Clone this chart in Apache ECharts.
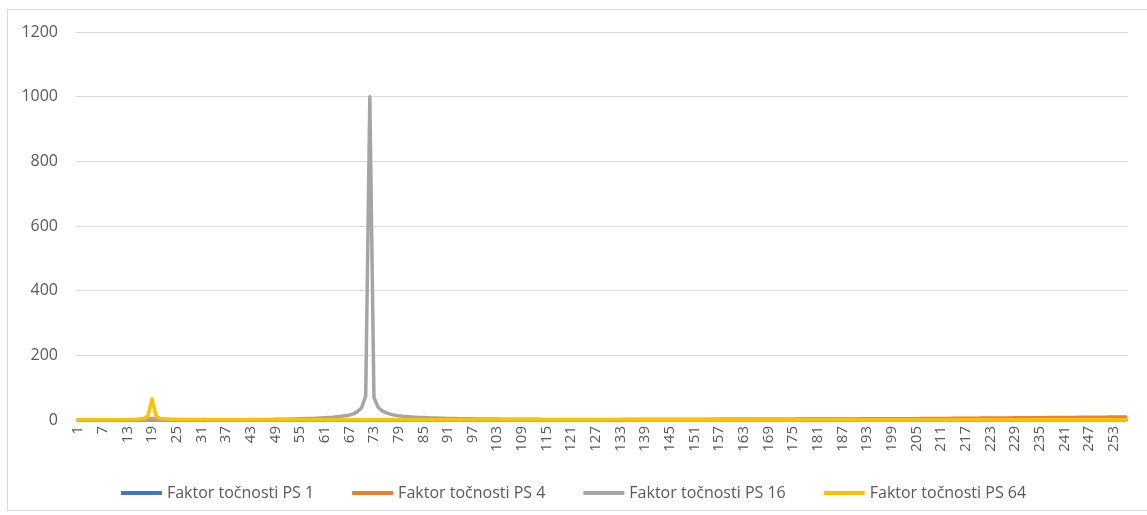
<!DOCTYPE html>
<html>
<head>
<meta charset="utf-8">
<script src="https://cdn.jsdelivr.net/npm/echarts@6/dist/echarts.min.js"></script>
<style>
  html, body { margin: 0; padding: 0; background: #fff; overflow: hidden; width: 1147px; height: 515px; }
  #frame { position: absolute; left: 7px; top: 9px; width: 1200px; height: 500px; border: 1px solid #d9d9d9; border-right: none; }
  #chart { position: absolute; left: 0; top: 0; width: 1147px; height: 515px; }
</style>
</head>
<body>
<div id="frame"></div>
<div id="chart"></div>
<script>
// categories 1..256
var categories = [];
for (var i = 1; i <= 256; i++) { categories.push(String(i)); }

var seriesNames = ['Faktor točnosti PS 1', 'Faktor točnosti PS 4', 'Faktor točnosti PS 16', 'Faktor točnosti PS 64'];
var yTicks = [0, 200, 400, 600, 800, 1000, 1200];

var ps1 = [
  0.2,0.2,0.2,0.2,0.2,0.2,0.2,0.2,0.2,0.2,0.2,0.2,0.2,0.2,0.2,0.2,
  0.2,0.2,0.3,0.2,0.2,0.2,0.2,0.2,0.2,0.2,0.2,0.2,0.2,0.2,0.2,0.2,
  0.2,0.2,0.2,0.2,0.2,0.2,0.2,0.2,0.2,0.2,0.2,0.2,0.2,0.2,0.2,0.2,
  0.2,0.2,0.2,0.2,0.2,0.2,0.2,0.2,0.2,0.2,0.2,0.2,0.2,0.2,0.2,0.2,
  0.2,0.2,0.2,0.2,0.2,0.2,0.3,0.4,0.3,0.2,0.2,0.2,0.2,0.2,0.2,0.2,
  0.2,0.2,0.2,0.2,0.2,0.2,0.2,0.2,0.2,0.2,0.2,0.2,0.2,0.2,0.2,0.2,
  0.2,0.2,0.2,0.2,0.2,0.2,0.2,0.2,0.2,0.2,0.2,0.2,0.2,0.2,0.2,0.2,
  0.2,0.2,0.2,0.2,0.2,0.2,0.2,0.2,0.2,0.2,0.2,0.2,0.2,0.2,0.2,0.2,
  0.2,0.2,0.2,0.2,0.2,0.2,0.2,0.2,0.2,0.2,0.2,0.2,0.2,0.2,0.2,0.2,
  0.2,0.2,0.2,0.2,0.2,0.2,0.2,0.2,0.2,0.2,0.2,0.2,0.2,0.2,0.2,0.2,
  0.2,0.2,0.2,0.2,0.2,0.2,0.2,0.2,0.2,0.2,0.2,0.2,0.2,0.2,0.2,0.2,
  0.2,0.2,0.2,0.2,0.2,0.2,0.2,0.2,0.2,0.2,0.2,0.2,0.2,0.2,0.2,0.2,
  0.2,0.2,0.2,0.2,0.2,0.2,0.2,0.2,0.2,0.2,0.2,0.2,0.2,0.2,0.2,0.2,
  0.2,0.2,0.2,0.2,0.2,0.2,0.2,0.2,0.2,0.2,0.2,0.2,0.2,0.2,0.2,0.2,
  0.2,0.2,0.2,0.2,0.2,0.2,0.2,0.2,0.2,0.2,0.2,0.2,0.2,0.2,0.2,0.2,
  0.2,0.2,0.2,0.2,0.2,0.2,0.2,0.2,0.2,0.2,0.2,0.2,0.2,0.2,0.2,0.2
];

var ps4 = [
  0.3,0.3,0.3,0.3,0.3,0.3,0.3,0.3,0.3,0.3,0.3,0.3,0.3,0.3,0.3,0.3,
  0.3,0.3,0.3,0.3,0.3,0.3,0.3,0.3,0.3,0.3,0.3,0.3,0.3,0.3,0.3,0.3,
  0.3,0.3,0.3,0.3,0.3,0.3,0.3,0.3,0.3,0.3,0.3,0.3,0.3,0.3,0.3,0.3,
  0.3,0.3,0.3,0.3,0.3,0.3,0.3,0.3,0.3,0.3,0.3,0.3,0.3,0.3,0.3,0.3,
  0.3,0.3,0.3,0.3,0.3,0.3,0.3,0.3,0.3,0.3,0.3,0.3,0.3,0.3,0.3,0.3,
  0.3,0.3,0.3,0.3,0.3,0.3,0.3,0.3,0.3,0.3,0.4,0.4,0.4,0.4,0.4,0.4,
  0.4,0.4,0.5,0.5,0.5,0.5,0.5,0.5,0.6,0.6,0.6,0.6,0.6,0.7,0.7,0.7,
  0.7,0.7,0.8,0.8,0.8,0.8,0.8,0.9,0.9,0.9,0.9,0.9,1.0,1.0,1.0,1.0,
  1.0,1.1,1.1,1.1,1.1,1.2,1.2,1.2,1.3,1.3,1.3,1.4,1.4,1.4,1.5,1.5,
  1.5,1.6,1.6,1.6,1.7,1.7,1.8,1.8,1.8,1.9,1.9,2.0,2.0,2.0,2.1,2.1,
  2.2,2.2,2.2,2.3,2.3,2.4,2.4,2.4,2.5,2.5,2.6,2.6,2.6,2.7,2.7,2.8,
  2.8,2.8,2.9,2.9,3.0,3.0,3.0,3.1,3.1,3.2,3.2,3.3,3.3,3.4,3.4,3.5,
  3.5,3.6,3.6,3.7,3.7,3.8,3.8,3.9,3.9,4.0,4.0,4.1,4.2,4.3,4.4,4.5,
  4.6,4.7,4.8,4.9,5.0,5.1,5.2,5.3,5.4,5.5,5.6,5.7,5.8,5.9,6.0,6.1,
  6.2,6.3,6.4,6.5,6.6,6.7,6.8,6.9,7.0,7.1,7.2,7.3,7.4,7.5,7.6,7.7,
  7.8,7.9,8.0,8.1,8.2,8.3,8.4,8.5,8.6,8.7,8.8,8.9,9.0,9.2,9.4,9.6
];

var ps16 = [
  0.3,0.3,0.3,0.3,0.3,0.3,0.3,0.3,0.3,0.4,0.4,0.5,0.6,0.8,1.0,1.5,
  2.5,4.0,5.0,3.0,1.8,1.2,1.0,0.9,0.8,0.8,0.8,0.8,0.8,0.8,0.8,0.8,
  0.8,0.8,0.8,0.9,0.9,0.9,1.0,1.0,1.0,1.1,1.2,1.3,1.4,1.5,1.6,1.8,
  2.0,2.2,2.4,2.7,3.0,3.3,3.6,4.0,4.5,5.0,5.5,6.0,6.7,7.5,8.5,10,
  11.5,13,15,19,26,38,75,1000,70,40,28,22,18,15,13,11.5,
  10.5,9.5,8.7,8.0,7.4,6.9,6.4,6.0,5.6,5.3,5.0,4.7,4.5,4.2,4.0,3.8,
  3.6,3.4,3.3,3.1,3.0,2.9,2.8,2.7,2.6,2.5,2.4,2.3,2.2,2.2,2.1,2.0,
  2.0,1.9,1.9,1.9,1.8,1.8,1.8,1.7,1.7,1.7,1.7,1.6,1.6,1.6,1.6,1.6,
  1.5,1.5,1.5,1.5,1.5,1.5,1.5,1.5,1.5,1.5,1.5,1.5,1.5,1.5,1.5,1.5,
  1.5,1.5,1.5,1.5,1.5,1.5,1.5,1.5,1.5,1.5,1.5,1.5,1.5,1.5,1.5,1.5,
  1.5,1.5,1.5,1.5,1.5,1.5,1.5,1.5,1.5,1.5,1.5,1.5,1.5,1.5,1.5,1.5,
  1.5,1.5,1.5,1.5,1.5,1.5,1.5,1.5,1.5,1.5,1.5,1.5,1.5,1.5,1.5,1.5,
  1.5,1.5,1.5,1.5,1.5,1.5,1.5,1.5,1.5,1.5,1.5,1.5,1.5,1.5,1.5,1.5,
  1.5,1.5,1.5,1.5,1.5,1.5,1.5,1.5,1.5,1.5,1.5,1.5,1.5,1.5,1.5,1.5,
  1.5,1.5,1.5,1.5,1.5,1.5,1.5,1.5,1.5,1.5,1.5,1.5,1.5,1.5,1.5,1.5,
  1.5,1.5,1.5,1.5,1.5,1.5,1.5,1.5,1.5,1.5,1.5,1.5,1.5,1.5,1.5,1.5
];

var ps64 = [
  0.8,0.8,0.8,0.8,0.8,0.9,0.9,0.9,1.0,1.0,1.0,1.1,1.3,1.6,2.0,2.8,
  4.5,12,65,11,5.0,3.5,2.8,2.3,2.0,1.8,1.6,1.5,1.4,1.3,1.2,1.2,
  1.1,1.1,1.1,1.0,1.0,1.0,1.0,1.0,1.0,1.0,1.0,1.0,1.0,1.0,1.0,1.0,
  1.0,1.0,1.0,1.0,1.0,1.0,1.0,1.0,1.0,1.0,1.0,1.0,1.0,1.0,1.0,1.0,
  1.0,1.0,1.0,1.0,1.0,1.0,1.0,1.0,1.0,1.0,1.0,1.0,1.0,1.0,1.0,1.0,
  1.0,1.0,1.0,1.0,1.0,1.0,1.0,1.0,1.0,1.0,1.0,1.0,1.0,1.0,1.0,1.0,
  1.0,1.0,1.0,1.0,1.0,1.0,1.0,1.0,1.0,1.0,1.0,1.0,1.0,1.0,1.0,1.0,
  1.0,1.0,1.0,1.0,1.0,1.0,1.0,1.0,1.0,1.0,1.0,1.0,1.0,1.0,1.0,1.0,
  1.0,1.0,1.0,1.0,1.0,1.0,1.0,1.0,1.0,1.0,1.0,1.0,1.0,1.0,1.0,1.0,
  1.0,1.0,1.0,1.0,1.0,1.0,1.0,1.0,1.0,1.0,1.0,1.0,1.0,1.0,1.0,1.0,
  1.0,1.0,1.0,1.0,1.0,1.0,1.0,1.0,1.0,1.0,1.0,1.0,1.0,1.0,1.0,1.0,
  1.0,1.0,1.0,1.0,1.0,1.0,1.0,1.0,1.0,1.0,1.0,1.0,1.0,1.0,1.0,1.0,
  1.0,1.0,1.0,1.0,1.0,1.0,1.0,1.0,1.0,1.0,1.0,1.0,1.0,1.0,1.0,1.0,
  1.0,1.0,1.0,1.0,1.0,1.0,1.0,1.0,1.0,1.0,1.0,1.0,1.0,1.0,1.0,1.0,
  1.0,1.0,1.0,1.0,1.0,1.0,1.0,1.0,1.0,1.0,1.0,1.0,1.0,1.0,1.0,1.0,
  1.0,1.0,1.0,1.0,1.0,1.0,1.0,1.0,1.0,1.0,1.0,1.0,1.0,1.0,1.0,1.0
];

var colors = ['#4472C4', '#ED7D31', '#A5A5A5', '#FFC000'];

var chart = echarts.init(document.getElementById('chart'));

var font = '"Open Sans", "Liberation Sans", sans-serif';

function lineSeries(name, data){
	return {
		name: name,
		type: 'line',
		data: data,
		symbol: 'none',
		showSymbol: false,
		lineStyle: { width: 3.5, cap: 'round', join: 'round' },
		animation: false
	};
}

var option = {
	animation: false,
	color: colors,
	grid: { left: 76, right: 19, top: 32, bottom: 95, containLabel: false },
	legend: {
		bottom: 9,
		left: 'center',
		icon: 'rect',
		itemWidth: 41,
		itemHeight: 4,
		itemGap: 38,
		textStyle: { color: '#595959', fontSize: 16, fontFamily: font },
		data: seriesNames
	},
	xAxis: {
		type: 'category',
		data: categories,
		boundaryGap: true,
		axisLine: { lineStyle: { color: '#d9d9d9' } },
		axisTick: { show: false },
		axisLabel: {
			interval: 5,
			rotate: 90,
			margin: 6,
			color: '#595959',
			fontSize: 15,
			fontFamily: font
		}
	},
	yAxis: {
		type: 'value',
		min: yTicks[0],
		max: yTicks[yTicks.length - 1],
		interval: 200,
		axisLine: { show: false },
		axisTick: { show: false },
		splitLine: { lineStyle: { color: '#d9d9d9' } },
		axisLabel: {
			margin: 18,
			color: '#595959',
			fontSize: 16,
			fontFamily: font,
			formatter: function(v){ return String(v); }
		}
	},
	series: [
		lineSeries(seriesNames[0], ps1),
		lineSeries(seriesNames[1], ps4),
		lineSeries(seriesNames[2], ps16),
		lineSeries(seriesNames[3], ps64)
	]
};

chart.setOption(option);
</script>
</body>
</html>
